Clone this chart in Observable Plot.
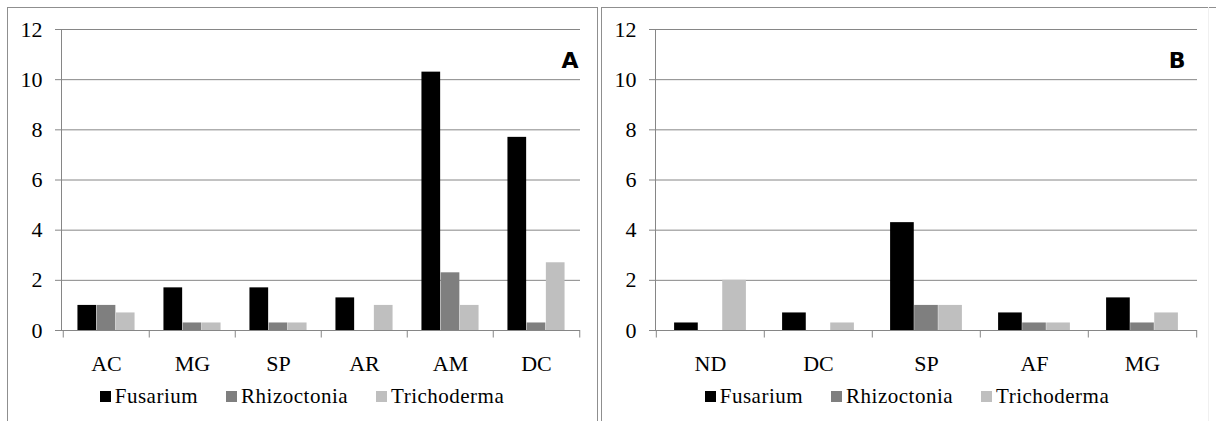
<!DOCTYPE html>
<html><head><meta charset="utf-8">
<script src="https://cdn.jsdelivr.net/npm/d3@7"></script>
<script src="https://cdn.jsdelivr.net/npm/@observablehq/plot@0.6"></script>
<style>
body{margin:0;background:#fff;width:1216px;height:421px;overflow:hidden;position:relative;font-family:"Liberation Serif","Times New Roman","DejaVu Serif",serif;}
.abs{position:absolute}
.legend{position:absolute;display:flex;justify-content:center;align-items:center;font-size:21px;letter-spacing:0.5px;color:#000;white-space:nowrap}
.item{display:flex;align-items:center;margin:0 14px}
.sw{width:11px;height:11px;margin-right:4px}
.line{position:absolute;background:#8f8f8f;z-index:5}
</style></head><body>
<div id="A" class="abs" style="left:0;top:0"></div>
<div id="B" class="abs" style="left:600px;top:0"></div>
<div class="legend" id="legA" style="left:7px;width:590px;top:384px;height:24px"></div>
<div class="legend" id="legB" style="left:601px;width:612px;top:384px;height:24px"></div>
<div class="line" style="left:7px;top:7px;width:591px;height:1px"></div>
<div class="line" style="left:7px;top:7px;width:1px;height:414px"></div>
<div class="line" style="left:597px;top:7px;width:1px;height:414px"></div>
<div class="line" style="left:601px;top:7px;width:615px;height:1px"></div>
<div class="line" style="left:601px;top:7px;width:1px;height:414px"></div>
<div class="line" style="left:1208px;top:7px;width:1px;height:414px;background:#f0f0f0"></div>
<script>
const seriesNames = ["Fusarium", "Rhizoctonia", "Trichoderma"];
const seriesColors = ["#000000", "#7f7f7f", "#bfbfbf"];

const catsA = ["AC", "MG", "SP", "AR", "AM", "DC"];
const fusariumA = [1.0, 1.7, 1.7, 1.3, 10.3, 7.7];
const rhizoctoniaA = [1.0, 0.3, 0.3, 0, 2.3, 0.3];
const trichodermaA = [0.7, 0.3, 0.3, 1.0, 1.0, 2.7];

const catsB = ["ND", "DC", "SP", "AF", "MG"];
const fusariumB = [0.3, 0.7, 4.3, 0.7, 1.3];
const rhizoctoniaB = [0, 0, 1.0, 0.3, 0.3];
const trichodermaB = [2.0, 0.3, 1.0, 0.3, 0.7];

const yTicks = [0, 2, 4, 6, 8, 10, 12];

const grid = "#868686";
const serif = "'Liberation Serif', 'Times New Roman', 'DejaVu Serif', serif";

function panel({cats, values, width, marginLeft, marginRight, label, labelDx}) {
  const height = 380, marginTop = 29, marginBottom = 50;
  const bw = (width - marginLeft - marginRight) / cats.length;
  const barW = 0.222 * bw;
  const pad = (bw - 3 * barW) / 2;
  const bars = values.map((s, i) => Plot.barY(
    cats.map((c, j) => ({cat: c, value: s[j]})),
    {x: "cat", y: "value", fill: seriesColors[i],
     insetLeft: pad + i * barW, insetRight: bw - pad - (i + 1) * barW}
  ));
  return Plot.plot({
    width, height, marginLeft, marginRight, marginTop, marginBottom,
    style: {fontFamily: serif, fontSize: "22px", background: "transparent", color: "#000", overflow: "visible"},
    x: {type: "band", domain: cats, padding: 0, label: null},
    y: {domain: [0, 12], label: null},
    marks: [
      Plot.ruleY(yTicks, {stroke: grid, strokeWidth: 1}),
      Plot.frame({anchor: "left", stroke: grid}),
      Plot.ruleX(cats, {x: d => d, dx: -bw / 2, y1: 0, y2: -0.3, stroke: grid}),
      Plot.ruleX(cats.slice(-1), {x: d => d, dx: bw / 2, y1: 0, y2: -0.3, stroke: grid}),
      ...bars,
      Plot.axisY({ticks: yTicks, tickSize: 6, tickPadding: 13, stroke: grid, fill: "#000", fontSize: 22, fontFamily: serif}),
      Plot.axisX({tickSize: 0, tickPadding: 25, fill: "#000", fontSize: 22, fontFamily: serif}),
      Plot.text([label], {frameAnchor: "top-right", dx: labelDx, dy: 31, lineAnchor: "middle", textAnchor: "end",
        fontFamily: "'DejaVu Sans', sans-serif", fontWeight: "bold", fontSize: 22, fill: "#000"})
    ]
  });
}

document.getElementById("A").append(panel({
  cats: catsA, values: [fusariumA, rhizoctoniaA, trichodermaA],
  width: 597, marginLeft: 61, marginRight: 17, label: "A", labelDx: -2
}));
document.getElementById("B").append(panel({
  cats: catsB, values: [fusariumB, rhizoctoniaB, trichodermaB],
  width: 616, marginLeft: 55, marginRight: 19, label: "B", labelDx: -12
}));

for (const id of ["legA", "legB"]) {
  const el = document.getElementById(id);
  seriesNames.forEach((n, i) => {
    const it = document.createElement("div"); it.className = "item";
    const sw = document.createElement("div"); sw.className = "sw"; sw.style.background = seriesColors[i];
    const tx = document.createElement("span"); tx.textContent = n;
    it.append(sw, tx); el.append(it);
  });
}
</script>
</body></html>
